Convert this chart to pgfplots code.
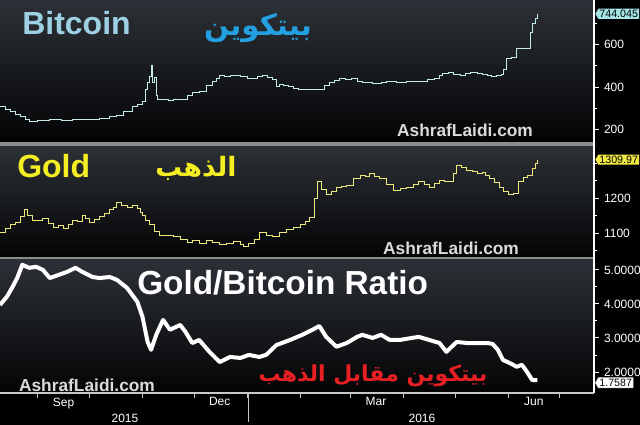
\documentclass[border=0pt]{standalone}
\usepackage{pgfplots}
\pgfplotsset{compat=1.18}
\usepackage{fontspec}
\setmainfont{Liberation Sans}
\newfontfamily\arabicfont[Script=Arabic]{DejaVu Sans}
\TeXXeTstate=1
\usetikzlibrary{shapes.symbols}

\definecolor{btcTitle}{RGB}{158,208,228}
\definecolor{btcAr}{RGB}{35,160,225}
\definecolor{btcLine}{RGB}{195,235,235}
\definecolor{goldY}{RGB}{245,238,35}
\definecolor{goldLine}{RGB}{238,232,120}
\definecolor{arRed}{RGB}{232,32,36}
\definecolor{panelTop}{RGB}{44,49,55}
\definecolor{panelBot}{RGB}{4,4,5}
\definecolor{sepGray}{RGB}{140,140,140}
\definecolor{wmGray}{RGB}{218,218,218}
\definecolor{axGray}{RGB}{200,200,200}
\definecolor{btcBox}{RGB}{165,228,228}
\definecolor{goldBox}{RGB}{242,232,70}

\pgfplotsset{
  panel/.style={
    scale only axis, width=445.5pt, anchor=south west,
    xmin=-22, xmax=324,
    axis y line*=right,
    axis line style={white, line width=0.8pt},
    axis background/.style={shade, top color=panelTop, bottom color=panelBot},
    tick align=outside,
    major tick length=4pt, minor tick length=2.5pt,
    tick style={white, line width=0.6pt},
    yticklabel style={white, font=\fontsize{9}{10}\selectfont},
    /pgf/number format/assume math mode=true,
    /pgf/number format/1000 sep={},
  },
  toppanel/.style={panel, axis x line=none, xtick=\empty},
}
\tikzset{valbox/.style={signal, signal to=west, signal pointer angle=120, anchor=west,
  inner xsep=0.8pt, inner ysep=1pt, font=\fontsize{8}{9}\selectfont, text=black, xshift=0.8pt}}

\begin{document}
\begin{tikzpicture}[x=0.75pt,y=0.75pt]
\fill[black] (0,0) rectangle (640,425);
\path[use as bounding box] (0,0) rectangle (640,425);

% ---------------- Bitcoin ----------------
\begin{axis}[toppanel, at={(0pt,212.25pt)}, height=106.5pt, ymin=141, ymax=809,
  ytick={200,400,600}, minor ytick={300,500,700}]
\addplot[const plot, btcLine, line width=0.7pt] table {
x y
-22 306
-19 295
-16 283
-13 270
-10 259
-7 245
-5 236
0 240
7 245
14 243
20 245
28 248
36 254
42 260
46 268
50 285
55 306
58 318
61 330
63 386
64 420
65 450
66 503
67 420
68 445
69 360
70 339
73 339
76 336
79 339
84 339
87 358
90 372
94 377
98 405
102 424
104 440
106 456
109 450
112 456
115 452
118 447
122 440
125 438
128 448
131 456
134 445
137 433
139 400
141 412
143 409
146 400
149 395
152 390
154 386
158 388
162 386
164 386
167 405
170 419
173 430
176 442
179 436
183 438
186 425
189 419
195 418
200 422
203 424
209 420
215 424
221 428
227 433
231 440
234 452
236 462
239 470
242 460
246 456
249 462
252 466
256 462
259 461
262 455
264 447
267 452
270 461
271 480
273 536
276 541
279 583
282 580
285 583
287 658
288 700
290 720
291 744
};
\coordinate (btcEnd) at (axis cs:324,744);
\end{axis}

% ---------------- Gold ----------------
\begin{axis}[toppanel, at={(0pt,126pt)}, height=83.25pt, ymin=1031, ymax=1349,
  ytick={1100,1200}, minor ytick={1050,1150,1250,1300}]
\addplot[const plot, goldLine, line width=0.7pt] table {
x y
-22 1100
-19 1112
-16 1123
-13 1130
-10 1146
-8 1166
-6 1150
-3 1137
0 1135
3 1140
6 1128
9 1117
12 1120
15 1114
18 1125
20 1137
23 1132
26 1151
28 1140
30 1129
33 1138
36 1146
39 1155
42 1166
44 1172
46 1186
49 1180
52 1174
55 1178
58 1171
60 1160
61 1151
63 1135
65 1123
68 1105
71 1094
75 1092
79 1089
83 1080
87 1074
90 1078
94 1071
98 1079
102 1074
106 1068
110 1071
114 1075
118 1066
120 1060
123 1071
126 1082
129 1100
133 1094
137 1089
141 1100
145 1109
149 1115
153 1123
156 1133
158 1143
161 1200
163 1246
165 1225
168 1209
171 1220
174 1229
177 1232
180 1237
184 1255
188 1266
191 1262
193 1271
196 1262
199 1257
203 1240
207 1223
211 1226
215 1229
219 1240
222 1246
225 1238
228 1231
231 1242
234 1251
237 1248
240 1246
242 1270
244 1294
247 1288
250 1280
253 1275
256 1271
259 1274
261 1265
263 1257
266 1244
269 1229
271 1220
274 1209
277 1214
280 1246
283 1258
285 1266
288 1286
290 1298
291 1310
};
\coordinate (goldEnd) at (axis cs:324,1309.97);
\end{axis}

% ---------------- Ratio ----------------
\begin{axis}[panel, at={(0pt,24pt)}, height=100.5pt, ymin=1.38, ymax=5.32,
  axis x line*=bottom, x axis line style={axGray},
  ytick={2,3,4,5}, minor ytick={2.5,3.5,4.5},
  yticklabel style={/pgf/number format/fixed, /pgf/number format/fixed zerofill, /pgf/number format/precision=4},
  xtick={0,30,61,91,122,153,182,213,243,274,304}, xticklabels={},
  extra x ticks={15,106,197,289}, extra x tick labels={Sep,Dec,Mar,Jun},
  extra x tick style={major tick length=0pt},
  xticklabel style={white, font=\fontsize{9}{10}\selectfont},
  x tick style={axGray}]
\addplot[white, line width=3pt, line join=round] table {
x y
-22 3.97
-18 4.21
-15 4.47
-12 4.76
-9 5.15
-5 5.06
-1 5.09
3 5.00
7 4.76
12 4.85
17 4.94
22 5.06
26 4.94
32 4.79
36 4.76
42 4.79
46 4.71
52 4.47
58 4.06
61 3.62
64 2.88
66 2.65
69 3.09
73 3.53
77 3.24
83 3.38
86 3.18
90 2.85
94 2.94
100 2.59
106 2.29
112 2.44
118 2.41
123 2.50
129 2.44
133 2.50
139 2.79
147 2.94
154 3.09
160 3.24
164 3.35
168 3.03
174 2.74
180 2.85
186 3.03
189 3.09
195 3.00
200 3.09
205 2.94
211 2.94
218 3.00
222 3.03
228 2.94
234 2.85
238 2.59
244 2.88
250 2.85
256 2.85
262 2.85
265 2.82
268 2.65
271 2.35
275 2.26
279 2.15
282 2.21
285 2.00
288 1.76
291 1.76
};
\coordinate (ratioEnd) at (axis cs:324,1.68);
\end{axis}

% separators and frame
\fill[sepGray] (0,279) rectangle (594,283);
\fill[sepGray] (0,166) rectangle (594,168);
\draw[white, line width=0.8pt] (594,32) -- (594,425);
\draw[axGray, line width=0.6pt] (248,32) -- (248,3);
\node[white, font=\fontsize{9}{10}\selectfont] at (125,7) {2015};
\node[white, font=\fontsize{9}{10}\selectfont] at (422,7) {2016};

% value boxes
\node[valbox, fill=btcBox] at (btcEnd) {744.045};
\node[valbox, fill=goldBox] at (goldEnd) {1309.97};
\node[valbox, fill=white, draw=axGray] at (ratioEnd) {1.7587};

% titles
\node[anchor=base west, inner sep=0, text=btcTitle, font=\fontsize{24}{28}\selectfont\bfseries] at (22,390) {Bitcoin};
\node[text=btcAr, inner sep=0, font=\fontsize{22}{26}\selectfont] at (258,397) {\arabicfont\bfseries\beginR بيتكوين\endR};
\node[anchor=base west, inner sep=0, text=goldY, font=\fontsize{24}{28}\selectfont\bfseries] at (17,247) {Gold};
\node[text=goldY, inner sep=0, font=\fontsize{20}{24}\selectfont] at (196,257) {\arabicfont\bfseries\beginR الذهب\endR};
\node[anchor=base west, inner sep=0, text=white, font=\fontsize{25}{29}\selectfont\bfseries] at (137,130) {Gold/Bitcoin Ratio};
\node[text=arRed, inner sep=0, font=\fontsize{16.5}{20}\selectfont] at (373,49) {\arabicfont\bfseries\beginR بيتكوين مقابل الذهب\endR};

% watermarks
\node[text=wmGray, font=\fontsize{13}{15}\selectfont\bfseries] at (465,295) {AshrafLaidi.com};
\node[text=wmGray, font=\fontsize{13}{15}\selectfont\bfseries] at (451,177) {AshrafLaidi.com};
\node[text=wmGray, font=\fontsize{13}{15}\selectfont\bfseries] at (87,40) {AshrafLaidi.com};
\end{tikzpicture}
\end{document}
